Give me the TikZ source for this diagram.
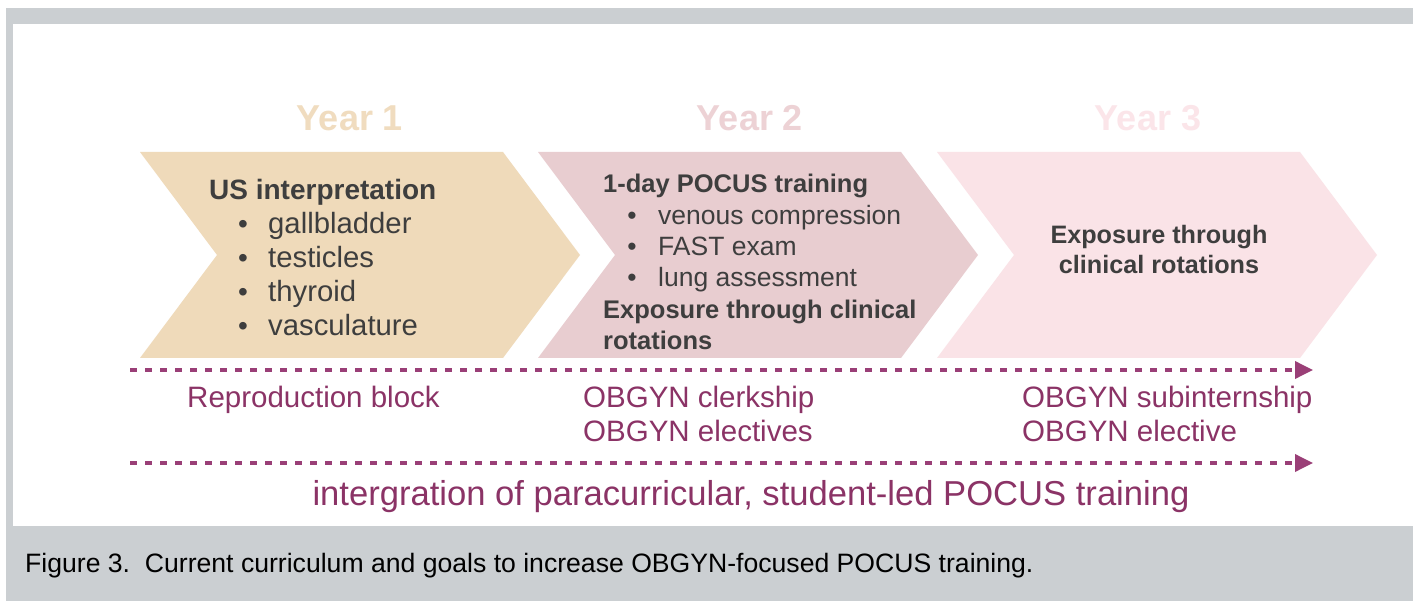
\documentclass[tikz,border=0pt]{standalone}
\usepackage{fontspec}
\setmainfont{Liberation Sans}
\usetikzlibrary{arrows.meta}
\definecolor{framegrey}{HTML}{CBCFD2}
\definecolor{tanfill}{HTML}{EFDABA}
\definecolor{rosefill}{HTML}{E8CDD0}
\definecolor{pinkfill}{HTML}{FAE3E7}
\definecolor{yearone}{HTML}{F0DCBF}
\definecolor{yeartwo}{HTML}{EDD2D5}
\definecolor{yearthree}{HTML}{FBE5E9}
\definecolor{darktext}{HTML}{3E3E3E}
\definecolor{plum}{HTML}{8B3366}
\definecolor{plumline}{HTML}{9A3F77}
\tikzset{
  yearlabel/.style={anchor=base, inner sep=0pt, font=\fontsize{36}{40}\selectfont\bfseries},
  txt/.style={anchor=base west, inner sep=0pt, text=darktext},
  bul/.style={anchor=base, inner sep=0pt, text=darktext},
  lowlabel/.style={anchor=base west, inner sep=0pt, text=plum, font=\fontsize{29.5}{32}\selectfont},
  dasharrow/.style={draw=plumline, line width=3.5pt, dash pattern=on 7pt off 8pt,
    -{Triangle[length=18pt,width=17pt,fill=plumline]}},
}
\newcommand{\onefont}{\fontsize{28}{32}\selectfont}
\newcommand{\twofont}{\fontsize{26.5}{30}\selectfont}
\newcommand{\threefont}{\fontsize{25.2}{30}\selectfont}
\begin{document}
\begin{tikzpicture}[x=1pt,y=-1pt]
\useasboundingbox (0,0) rectangle (1413,601);
% frame
\fill[framegrey] (6,8) rectangle (1413,601);
\fill[white] (13,24) rectangle (1413,526);
% chevrons
\fill[tanfill]  (140,152) -- (503,152) -- (580,255) -- (503,358) -- (140,358) -- (217,255) -- cycle;
\fill[rosefill] (538,152) -- (901,152) -- (978,255) -- (901,358) -- (538,358) -- (615,255) -- cycle;
\fill[pinkfill] (937,152) -- (1300,152) -- (1377,255) -- (1300,358) -- (937,358) -- (1014,255) -- cycle;
% year labels
\node[yearlabel, text=yearone]   (y1) at (350,131) {Year 1};
\node[yearlabel, text=yeartwo]   (y2) at (750,131) {Year 2};
\node[yearlabel, text=yearthree] (y3) at (1148,131) {Year 3};
% chevron 1 text
\node[txt, font=\onefont\bfseries] (c1h) at (209,200) {US interpretation};
\node[bul, font=\onefont] (c1b1) at (243,234) {•};
\node[bul, font=\onefont] (c1b2) at (243,268) {•};
\node[bul, font=\onefont] (c1b3) at (243,302) {•};
\node[bul, font=\onefont] (c1b4) at (243,336) {•};
\node[txt, font=\fontsize{29.3}{32}\selectfont] (c1i1) at (268,234) {gallbladder};
\node[txt, font=\fontsize{29.3}{32}\selectfont] (c1i2) at (268,268) {testicles};
\node[txt, font=\fontsize{29.3}{32}\selectfont] (c1i3) at (268,302) {thyroid};
\node[txt, font=\fontsize{29.3}{32}\selectfont] (c1i4) at (268,336) {vasculature};
% chevron 2 text
\node[txt, font=\fontsize{25.5}{30}\selectfont\bfseries] (c2h) at (603,193) {1-day POCUS training};
\node[bul, font=\twofont] (c2b1) at (632,225) {•};
\node[bul, font=\twofont] (c2b2) at (632,256) {•};
\node[bul, font=\twofont] (c2b3) at (632,287) {•};
\node[txt, font=\twofont] (c2i1) at (658,225) {venous compression};
\node[txt, font=\twofont] (c2i2) at (658,256) {FAST exam};
\node[txt, font=\twofont] (c2i3) at (658,287) {lung assessment};
\node[txt, font=\fontsize{25.5}{30}\selectfont\bfseries] (c2e1) at (603,319) {Exposure through clinical};
\node[txt, font=\fontsize{25.5}{30}\selectfont\bfseries] (c2e2) at (603,350) {rotations};
% chevron 3 text
\node[anchor=base, inner sep=0pt, text=darktext, font=\threefont\bfseries] (c3a) at (1159,244) {Exposure through};
\node[anchor=base, inner sep=0pt, text=darktext, font=\threefont\bfseries] (c3b) at (1159,274) {clinical rotations};
% dashed arrows
\coordinate (a1s) at (130,370);
\coordinate (a1e) at (1313,370);
\coordinate (a2s) at (130,463);
\coordinate (a2e) at (1313,463);
\draw[dasharrow] (a1s) -- (a1e);
\draw[dasharrow] (a2s) -- (a2e);
% lower labels
\node[lowlabel] (r1) at (187,407) {Reproduction block};
\node[lowlabel] (r2a) at (583,407) {OBGYN clerkship};
\node[lowlabel] (r2b) at (583,441) {OBGYN electives};
\node[lowlabel] (r3a) at (1022,407) {OBGYN subinternship};
\node[lowlabel] (r3b) at (1022,441) {OBGYN elective};
\node[anchor=base, inner sep=0pt, text=plum, font=\fontsize{34.6}{38}\selectfont] (integ) at (751,505) {intergration of paracurricular, student-led POCUS training};
% caption
\node[anchor=base west, inner sep=0pt, text=black, font=\fontsize{26.6}{30}\selectfont] (cap) at (25,572) {Figure 3.\ \ Current curriculum and goals to increase OBGYN-focused POCUS training.};
\end{tikzpicture}
\end{document}
